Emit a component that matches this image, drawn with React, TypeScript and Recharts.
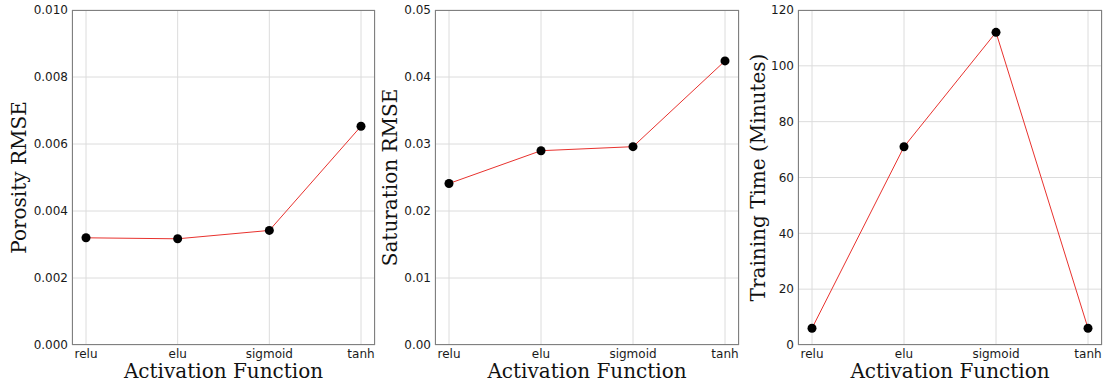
import React from 'react';
import { LineChart, Line, XAxis, YAxis, CartesianGrid, Label } from 'recharts';

const activations = ['relu', 'elu', 'sigmoid', 'tanh'];
const porosityRmse = [0.0032, 0.00317, 0.00342, 0.00653];
const saturationRmse = [0.0241, 0.029, 0.0296, 0.0424];
const trainingMinutes = [6, 71, 112, 6];

const porosityTicks = [0, 0.002, 0.004, 0.006, 0.008, 0.01];
const saturationTicks = [0, 0.01, 0.02, 0.03, 0.04, 0.05];
const timeTicks = [0, 20, 40, 60, 80, 100, 120];

const SANS = '"DejaVu Sans", sans-serif';
const SERIF = '"DejaVu Serif", serif';
const H = 385;

const toRows = (values: number[]) => activations.map((name, i) => ({ name, value: values[i] }));

interface PanelProps {
  left: number;
  width: number;
  yWidth: number;
  values: number[];
  ticks: number[];
  digits: number;
  yLabel: string;
  labelX: number;
}

const Panel = ({ left, width, yWidth, values, ticks, digits, yLabel, labelX }: PanelProps) => {
  const data = toRows(values);
  return (
    <div style={{ position: 'absolute', left, top: 0, width, height: H }}>
      <LineChart width={width} height={H} data={data} margin={{ top: 10, right: 4, bottom: 0, left: 0 }}>
        <CartesianGrid stroke="#dcdcdc" strokeWidth={1} />
        <XAxis
          dataKey="name"
          padding={{ left: 14, right: 14 }}
          height={40}
          tickLine={false}
          tickSize={0}
          tickMargin={4}
          axisLine={false}
          interval={0}
          tick={{ fill: '#1a1a1a', fontSize: 12, fontFamily: SANS }}
        >
          <Label
            content={({ viewBox }: any) => (
              <text
                x={viewBox.x + viewBox.width / 2}
                y={378}
                textAnchor="middle"
                fontFamily={SERIF}
                fontSize={20}
                fill="#111"
              >
                Activation Function
              </text>
            )}
          />
        </XAxis>
        <YAxis
          width={yWidth}
          domain={[ticks[0], ticks[ticks.length - 1]]}
          ticks={ticks}
          tickLine={false}
          tickSize={0}
          tickMargin={4}
          axisLine={false}
          tickFormatter={(v: number) => v.toFixed(digits)}
          tick={{ fill: '#1a1a1a', fontSize: 12, fontFamily: SANS }}
        >
          <Label
            content={({ viewBox }: any) => {
              const cy = viewBox.y + viewBox.height / 2;
              return (
                <text
                  x={labelX}
                  y={cy}
                  transform={`rotate(-90, ${labelX}, ${cy})`}
                  textAnchor="middle"
                  dominantBaseline="central"
                  fontFamily={SERIF}
                  fontSize={20}
                  fill="#111"
                >
                  {yLabel}
                </text>
              );
            }}
          />
        </YAxis>
        <Line
          dataKey="value"
          stroke="#e8322e"
          strokeWidth={1}
          dot={{ r: 4.5, fill: '#000', stroke: '#000', strokeWidth: 0 }}
          isAnimationActive={false}
        />
      </LineChart>
      {/* gray frame around the plot area */}
      <div
        style={{
          position: 'absolute',
          left: yWidth,
          top: 10,
          width: width - yWidth - 4,
          height: 335,
          border: '1px solid #808080',
          boxSizing: 'border-box',
          pointerEvents: 'none',
        }}
      />
    </div>
  );
};

export default function App() {
  return (
    <div style={{ position: 'absolute', left: 0, top: 0, width: 1105, height: H, background: '#fff' }}>
      <Panel
        left={0}
        width={379}
        yWidth={72}
        values={porosityRmse}
        ticks={porosityTicks}
        digits={3}
        yLabel="Porosity RMSE"
        labelX={19}
      />
      <Panel
        left={376}
        width={367}
        yWidth={59}
        values={saturationRmse}
        ticks={saturationTicks}
        digits={2}
        yLabel="Saturation RMSE"
        labelX={14}
      />
      <Panel
        left={742}
        width={364}
        yWidth={56}
        values={trainingMinutes}
        ticks={timeTicks}
        digits={0}
        yLabel="Training Time (Minutes)"
        labelX={16}
      />
    </div>
  );
}
